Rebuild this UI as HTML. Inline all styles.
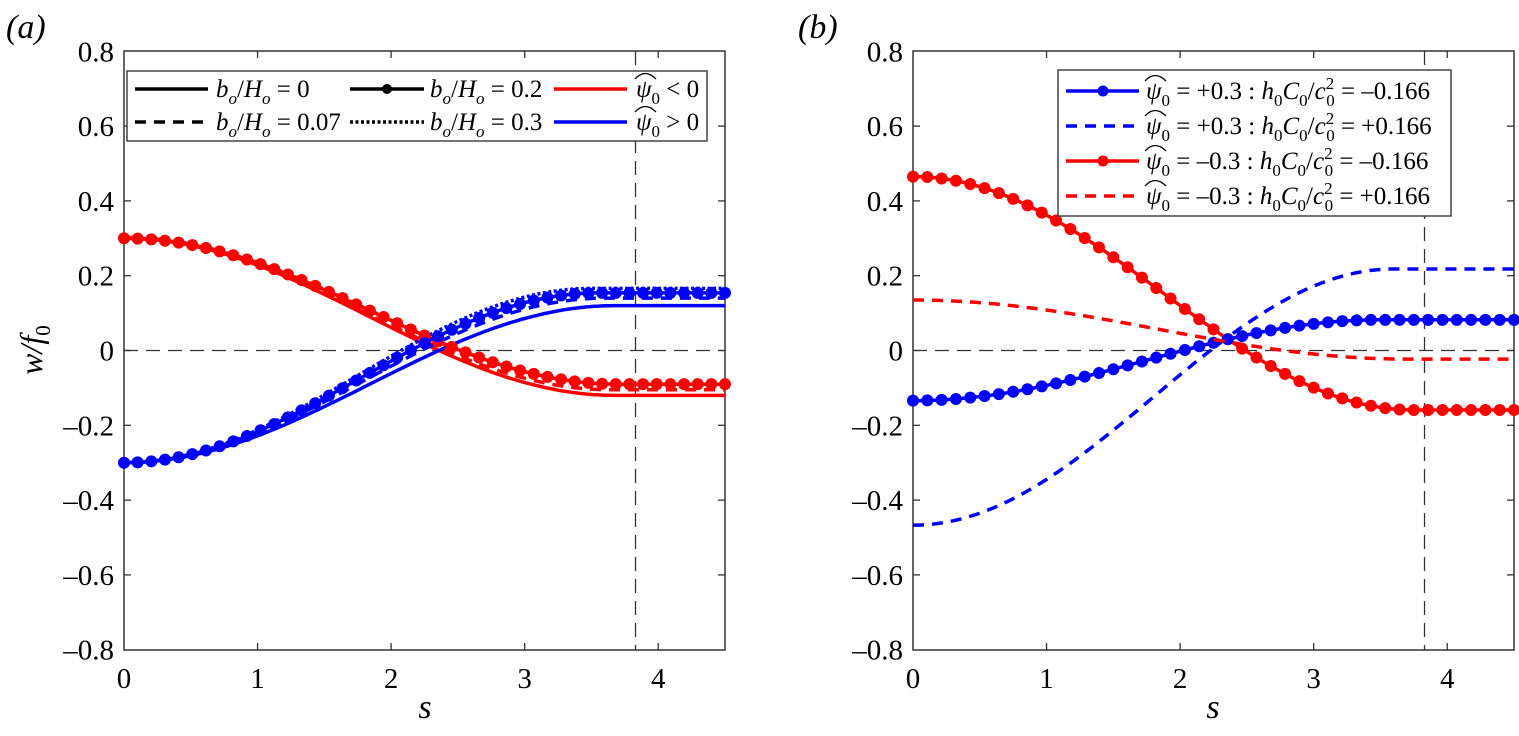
<!DOCTYPE html>
<html><head><meta charset="utf-8"><style>
html,body{margin:0;padding:0;background:#fff}
svg, svg text{font-family:"Liberation Serif","DejaVu Serif",serif}
</style></head><body>
<svg id="s" width="1519" height="731" viewBox="0 0 1519 731" xmlns="http://www.w3.org/2000/svg" font-family="Liberation Serif, serif">
<g id="plots" font-family="Liberation Serif, serif"></g>
<g font-family="Liberation Serif, serif">
<text x="6" y="38" font-size="34" font-style="italic">(a)</text>
<text x="798" y="38" font-size="34" font-style="italic">(b)</text>
<text transform="translate(42,350) rotate(-90)" font-size="32" text-anchor="middle" font-style="italic">w/f<tspan font-style="normal" font-size="21" dy="8">0</tspan></text>
<text x="425" y="718" font-size="34" font-style="italic" text-anchor="middle">s</text>
<text x="1213" y="718" font-size="34" font-style="italic" text-anchor="middle">s</text>
</g>

<!-- legend a -->
<rect x="127" y="71" width="580" height="70" fill="#fff" stroke="#444" stroke-width="1.5"/>
<g stroke-width="3.5" fill="none">
<line x1="135" y1="89" x2="208" y2="89" stroke="#000"/>
<line x1="135" y1="122" x2="208" y2="122" stroke="#000" stroke-dasharray="11,8"/>
<line x1="350" y1="89" x2="424" y2="89" stroke="#000"/>
<line x1="350" y1="122" x2="424" y2="122" stroke="#000" stroke-dasharray="3,2.5"/>
<line x1="554" y1="89" x2="627" y2="89" stroke="#f00"/>
<line x1="554" y1="122" x2="627" y2="122" stroke="#00f"/>
</g>
<circle cx="387" cy="89" r="5" fill="#000"/>
<g font-size="25" font-family="Liberation Serif, serif">
<text x="216" y="97"><tspan font-style="italic">b</tspan><tspan font-style="italic" font-size="17" dy="7">o</tspan><tspan dy="-7">/</tspan><tspan font-style="italic">H</tspan><tspan font-style="italic" font-size="17" dy="7">o</tspan><tspan dy="-7"> = 0</tspan></text>
<text x="216" y="130"><tspan font-style="italic">b</tspan><tspan font-style="italic" font-size="17" dy="7">o</tspan><tspan dy="-7">/</tspan><tspan font-style="italic">H</tspan><tspan font-style="italic" font-size="17" dy="7">o</tspan><tspan dy="-7"> = 0.07</tspan></text>
<text x="430" y="97"><tspan font-style="italic">b</tspan><tspan font-style="italic" font-size="17" dy="7">o</tspan><tspan dy="-7">/</tspan><tspan font-style="italic">H</tspan><tspan font-style="italic" font-size="17" dy="7">o</tspan><tspan dy="-7"> = 0.2</tspan></text>
<text x="430" y="130"><tspan font-style="italic">b</tspan><tspan font-style="italic" font-size="17" dy="7">o</tspan><tspan dy="-7">/</tspan><tspan font-style="italic">H</tspan><tspan font-style="italic" font-size="17" dy="7">o</tspan><tspan dy="-7"> = 0.3</tspan></text>
<text x="636" y="97"><tspan font-style="italic">ψ</tspan><tspan font-size="17" dy="7">0</tspan><tspan dy="-7"> &lt; 0</tspan></text>
<text x="636" y="130"><tspan font-style="italic">ψ</tspan><tspan font-size="17" dy="7">0</tspan><tspan dy="-7"> &gt; 0</tspan></text>
</g>
<g fill="none" stroke="#000" stroke-width="1.3">
<path d="M635 79 Q645 68 656 79"/><path d="M635 112 Q645 101 656 112"/>
</g>

<!-- legend b -->
<rect x="1058" y="70" width="393" height="146" fill="#fff" stroke="#444" stroke-width="1.5"/>
<g stroke-width="3.5" fill="none">
<line x1="1066" y1="91" x2="1139" y2="91" stroke="#00f"/>
<line x1="1066" y1="126" x2="1139" y2="126" stroke="#00f" stroke-dasharray="11,8"/>
<line x1="1066" y1="161" x2="1139" y2="161" stroke="#f00"/>
<line x1="1066" y1="196" x2="1139" y2="196" stroke="#f00" stroke-dasharray="11,8"/>
</g>
<circle cx="1103" cy="91" r="5.5" fill="#00f"/>
<circle cx="1103" cy="161" r="5.5" fill="#f00"/>
<g font-size="25" id="lb" font-family="Liberation Serif, serif"></g>
<g fill="none" stroke="#000" stroke-width="1.3" id="hats"></g>
</svg>
<script>
var NS="http://www.w3.org/2000/svg";
function el(t,a,p){var e=document.createElementNS(NS,t);for(var k in a)e.setAttribute(k,a[k]);(p||document.getElementById('plots')).appendChild(e);return e;}
var Y0=350.5,SY=374; function Y(v){return Y0-v*SY;}
function panel(L){
  var R=L+601, T=51, B=650, sx=(R-L)/4.5;
  function X(s){return L+s*sx;}
  el('rect',{x:L,y:T,width:R-L,height:B-T,fill:'none',stroke:'#333','stroke-width':1.5});
  for(var i=1;i<=4;i++){el('line',{x1:X(i),x2:X(i),y1:B,y2:B-7,stroke:'#333','stroke-width':1.3});el('line',{x1:X(i),x2:X(i),y1:T,y2:T+7,stroke:'#333','stroke-width':1.3});}
  for(var i=0;i<=4;i++){var t=el('text',{x:X(i),y:B+38,'font-size':29,'text-anchor':'middle','font-family':'Liberation Serif, serif'});t.textContent=i;}
  for(var v=-8;v<=8;v+=2){var y=Y(v/10);
    if(v>-8&&v<8){el('line',{x1:L,x2:L+7,y1:y,y2:y,stroke:'#333','stroke-width':1.3});el('line',{x1:R,x2:R-7,y1:y,y2:y,stroke:'#333','stroke-width':1.3});}
    var t=el('text',{x:L-10,y:y+10,'font-size':29,'text-anchor':'end','font-family':'Liberation Serif, serif'});
    t.textContent=v==0?'0':(v<0?'\u2013':'')+'0.'+Math.abs(v);}
  el('line',{x1:L,x2:R,y1:Y0,y2:Y0,stroke:'#333','stroke-width':1.3,'stroke-dasharray':'14,8'});
  el('line',{x1:X(3.83),x2:X(3.83),y1:T,y2:B,stroke:'#333','stroke-width':1.3,'stroke-dasharray':'14,8'});
  return X;
}
function curve(X,a,b,Lc,col,dash,marks){
  function f(s){return a+b*Math.cos(Math.PI*Math.min(s,Lc)/Lc);}
  var d='';for(var i=0;i<=300;i++){var s=4.5*i/300;d+=(i?'L':'M')+X(s).toFixed(1)+' '+Y(f(s)).toFixed(1);}
  var at={d:d,fill:'none',stroke:col,'stroke-width':3.5};if(dash)at['stroke-dasharray']=dash;el('path',at);
  if(marks)for(var i=0;i<=marks;i++){var s=4.5*i/marks;el('circle',{cx:X(s),cy:Y(f(s)),r:6,fill:col});}
}
var Xa=panel(124);
var red='#f00',blue='#00f';
curve(Xa,0.09,0.21,3.68,red,null,0);
curve(Xa,-0.09,-0.21,3.68,blue,null,0);
curve(Xa,0.0975,0.2025,3.65,red,'11,8',0);
curve(Xa,-0.08,-0.22,3.6,blue,'11,8',0);
curve(Xa,0.106,0.196,3.7,red,'3,2.5',0);
curve(Xa,-0.067,-0.233,3.5,blue,'3,2.5',0);
curve(Xa,0.105,0.195,3.7,red,null,44);
curve(Xa,-0.073,-0.227,3.55,blue,null,44);
var Xb=panel(913);
curve(Xb,0.153,0.312,3.75,red,null,42);
curve(Xb,-0.026,-0.108,3.5,blue,null,42);
curve(Xb,-0.1245,-0.3425,3.6,blue,'11,8',0);
curve(Xb,0.056,0.079,3.7,red,'11,8',0);
var lb=document.getElementById('lb'),hats=document.getElementById('hats');
var rows=[['+0.3','\u20130.166'],['+0.3','+0.166'],['\u20130.3','\u20130.166'],['\u20130.3','+0.166']];
rows.forEach(function(r,i){var y=99+35*i;
 var t=el('text',{x:1146,y:y},lb);
 t.innerHTML='<tspan font-style="italic">ψ</tspan><tspan font-size="17" dy="7">0</tspan><tspan dy="-7"> = '+r[0]+' : </tspan><tspan font-style="italic">h</tspan><tspan font-size="17" dy="7">0</tspan><tspan dy="-7" font-style="italic">C</tspan><tspan font-size="17" dy="7">0</tspan><tspan dy="-7">/</tspan><tspan font-style="italic">c</tspan><tspan font-size="17" dy="-10">2</tspan><tspan font-size="17" dx="-8" dy="17">0</tspan><tspan dy="-7"> = '+r[1]+'</tspan>';
 el('path',{d:'M1145 '+(y-18)+' Q1155 '+(y-29)+' 1166 '+(y-18)},hats);
});
</script>
</body></html>
